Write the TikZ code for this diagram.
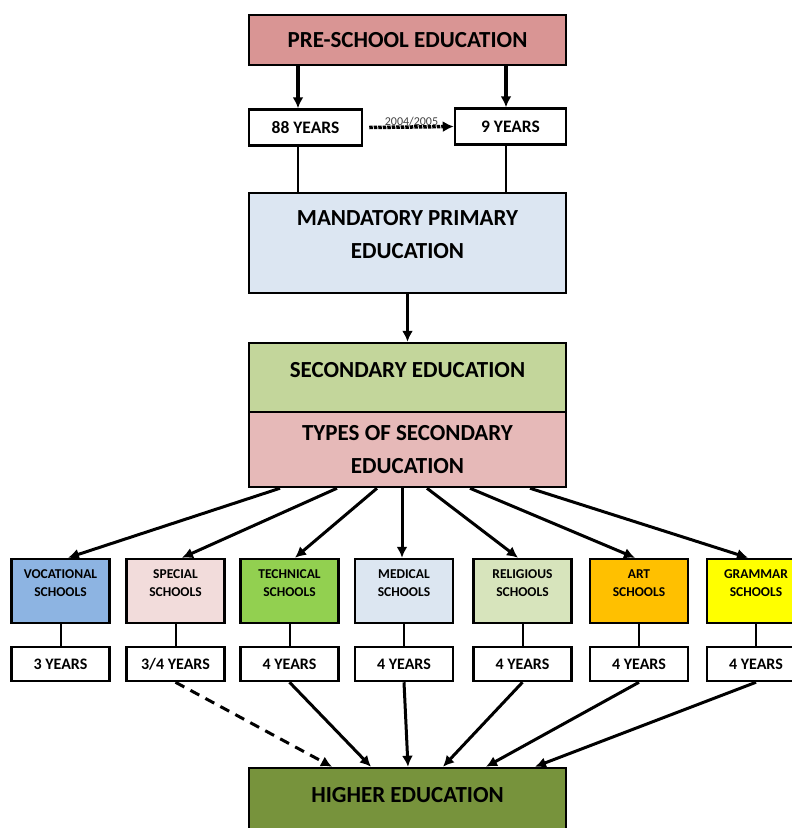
\documentclass[tikz,border=0pt]{standalone}
\usepackage{fontspec}
\setmainfont{Carlito}
\usetikzlibrary{arrows.meta}

\definecolor{preschool}{HTML}{D99594}
\definecolor{mandatory}{HTML}{DCE6F2}
\definecolor{secondary}{HTML}{C3D69B}
\definecolor{types}{HTML}{E6B9B8}
\definecolor{higher}{HTML}{77933C}
\definecolor{vocational}{HTML}{8DB4E2}
\definecolor{special}{HTML}{F2DCDB}
\definecolor{technical}{HTML}{92D050}
\definecolor{medical}{HTML}{DCE6F1}
\definecolor{religious}{HTML}{D7E4BC}
\definecolor{art}{HTML}{FFC000}
\definecolor{grammar}{HTML}{FFFF00}

\tikzset{
	box/.style={draw, line width=2.5pt, inner sep=0pt, align=center},
	bigbox/.style={box, minimum width=317pt, font=\fontsize{23}{33}\selectfont\bfseries},
	yearbox/.style={box, fill=white, minimum height=36pt, font=\fontsize{17.5}{20}\selectfont\bfseries},
	smallyears/.style={yearbox, minimum width=98pt, minimum height=34pt, font=\fontsize{16}{18}\selectfont\bfseries},
	schoolbox/.style={box, minimum width=98pt, minimum height=64pt},
	schooltext/.style={align=center, inner sep=0pt, font=\fontsize{13.5}{18}\selectfont\bfseries},
	flow/.style={line width=3.5pt, -{Latex[length=11pt,width=11pt]}},
	thinflow/.style={line width=3pt, -{Latex[length=11pt,width=11pt]}},
}

\begin{document}
\begin{tikzpicture}[x=1pt, y=-1pt]
	\useasboundingbox (0,0) rectangle (792,828);

	\node[bigbox, fill=preschool, minimum height=50pt] (pre) at (407.5,40) {PRE-SCHOOL EDUCATION};
	\node[yearbox, minimum width=113pt] (yrs88) at (305.5,127.5) {88 YEARS};
	\node[yearbox, minimum width=111pt] (yrs9) at (510.5,126.5) {9 YEARS};
	\node[bigbox, fill=mandatory, minimum height=100pt, text depth=18pt] (mand) at (407.5,243) {MANDATORY PRIMARY\\EDUCATION};
	\node[bigbox, fill=secondary, minimum height=69pt, text depth=16pt] (sec) at (407.5,377.5) {SECONDARY EDUCATION};
	\node[bigbox, fill=types, minimum height=75pt] (types) at (407.5,449.5) {TYPES OF SECONDARY\\EDUCATION};
	\node[bigbox, fill=higher, minimum height=80pt, text depth=26pt] (higher) at (407.5,808) {HIGHER EDUCATION};

	\draw[flow] ([xshift=-109.5pt]pre.south) -- ([xshift=-7.5pt]yrs88.north);
	\draw[flow] ([xshift=98.5pt]pre.south) -- ([xshift=-4.5pt]yrs9.north);
	\draw[line width=3.5pt, densely dotted, -{Latex[length=11pt,width=11pt]}] ([xshift=6pt]yrs88.east) -- (yrs9.west)
		node[midway, above=-4pt, text=black!75, font=\fontsize{12}{12}\selectfont] {2004/2005};
	\draw[line width=2pt] ([xshift=-7.5pt]yrs88.south) -- ([xshift=-109.5pt]mand.north);
	\draw[line width=2pt] ([xshift=-4.5pt]yrs9.south) -- ([xshift=98.5pt]mand.north);
	\draw[flow] (mand.south) -- (sec.north);

	\foreach \i/\xc/\col/\txt/\yrs/\from/\to in {
		1/60.5/vocational/VOCATIONAL/{3 YEARS}/-127.5/7.5,
		2/175.5/special/SPECIAL/{3/4 YEARS}/-70.5/6.5,
		3/289.5/technical/TECHNICAL/{4 YEARS}/-30.5/5.5,
		4/404/medical/MEDICAL/{4 YEARS}/-5.5/-2,
		5/522.5/religious/RELIGIOUS/{4 YEARS}/19.5/-4.5,
		6/639/art/ART/{4 YEARS}/62.5/-4,
		7/756/grammar/GRAMMAR/{4 YEARS}/122.5/-8}{
		\node[schoolbox, fill=\col] (s\i) at (\xc,591) {};
		\node[schooltext, anchor=north] (t\i) at ([yshift=-12pt]s\i.north) {\txt\\SCHOOLS};
		\node[smallyears] (y\i) at (\xc,664) {\yrs};
		\draw[line width=2pt] (s\i.south) -- (y\i.north);
		\draw[thinflow] ([xshift=\from pt]types.south) -- ([xshift=\to pt]s\i.north);
	}

	\draw[thinflow, dash pattern=on 10pt off 7pt] (y2.south) -- ([xshift=-75.5pt]higher.north);
	\foreach \i/\to in {3/-36.5, 4/0.5, 5/35.5, 6/78.5, 7/127.5}
		\draw[thinflow] (y\i.south) -- ([xshift=\to pt]higher.north);
\end{tikzpicture}
\end{document}
